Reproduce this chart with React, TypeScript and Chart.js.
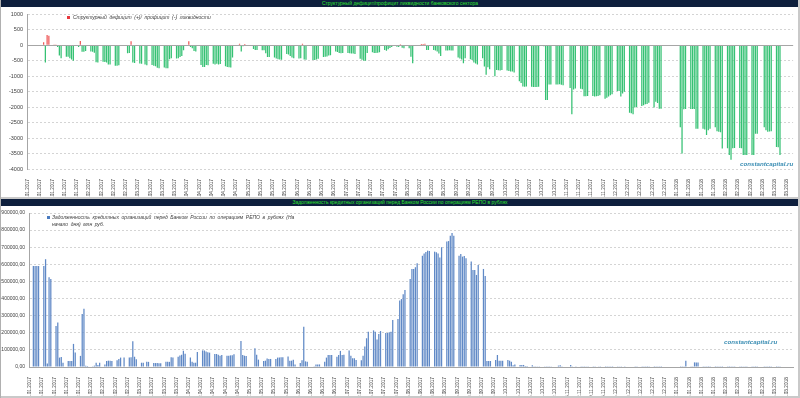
import React, { useEffect, useRef } from "react";
import { Chart, registerables } from "chart.js";
Chart.register(...registerables);

// ---------- categories ----------
const FIRST_YEAR = 2017;
const FIRST_MONTH = 0; // January
const FIRST_DATE = 1;
const DAY_COUNT = 438;
const LABEL_EVERY = 7;

// ---------- texts ----------
const TOP_TITLE = "Структурный дефицит/профицит ликвидности банковского сектора";
const TOP_SERIES_NAME = "Структурный дефицит (+)/ профицит (-) ликвидности";
const BOTTOM_TITLE = "Задолженность кредитных организаций перед Банком России по операциям РЕПО в рублях";
const BOTTOM_SERIES_NAME_1 = "Задолженность кредитных организаций перед Банком России по операциям РЕПО в рублях (На";
const BOTTOM_SERIES_NAME_2 = "начало дня) млн руб.";
const WATERMARK = "constantcapital.ru";

// ---------- tick labels ----------
const TOP_Y_TICKS = [1000, 500, 0, -500, -1000, -1500, -2000, -2500, -3000, -3500, -4000];
const BOTTOM_Y_TICKS = [900000, 800000, 700000, 600000, 500000, 400000, 300000, 200000, 100000, 0];

// ---------- series (weekly rows Mon..Fri, first row = week of 02.01.2017) ----------
const LIQUIDITY_WEEKS: (number | null)[][] = [
  [null, null, null, null, null],
  [-20, 100, -560, 330, 310],
  [10, 10, -60, -330, -420],
  [-370, -370, -420, -460, -500],
  [-60, 140, -210, -210, -190],
  [-200, -210, -240, -550, -560],
  [-530, -540, -560, -620, -620],
  [-660, -660, -650, null, null],
  [-260, -250, 130, -560, -570],
  [-590, -600, null, -620, -650],
  [-640, -660, -680, -730, -740],
  [-720, -740, -740, -450, -420],
  [-430, -420, -380, -350, -160],
  [130, -60, -100, -190, -200],
  [-640, -700, -700, -640, -650],
  [-600, -620, -600, -620, -610],
  [-680, -700, -710, -720, -400],
  [null, 50, -200, -30, 40],
  [null, null, -120, -150, -150],
  [-160, -160, -260, -380, -380],
  [-400, -430, -450, -460, -470],
  [-280, -300, -350, -400, -420],
  [-430, -420, 50, -460, -470],
  [null, -480, -480, -460, -440],
  [-380, -370, -360, -330, -320],
  [-200, -220, -250, -260, -250],
  [-250, -260, -270, -270, -280],
  [-440, -470, -500, -500, -250],
  [-230, -250, -250, -240, -230],
  [-150, -180, -130, -90, -60],
  [-50, -60, 30, -80, -100],
  [-100, -370, -580, -20, -10],
  [40, 40, 50, -150, -150],
  [-150, -170, -200, -270, -350],
  [-170, -170, -160, -170, -170],
  [-400, -430, -460, -580, -420],
  [-450, -480, -560, -590, -620],
  [-420, -690, -950, -710, -780],
  [-1000, -800, -810, -820, -800],
  [-820, -830, -850, -850, -880],
  [-1160, -1220, -1330, -1340, -1330],
  [-1340, -1350, -1350, -1350, -1340],
  [-30, -1770, -1770, -1270, -1270],
  [-1270, -1270, -1260, -1280, -1290],
  [null, -1380, -2230, -1430, -1400],
  [-1410, -1420, -1650, -1650, -1640],
  [-1640, -1660, -1650, -1640, -1620],
  [-1730, -1700, -1660, -1620, -1580],
  [-1480, -1480, -1660, -1560, -1500],
  [-2180, -2200, -2230, -2010, -2000],
  [-1960, -1940, -1910, -1900, -1860],
  [-2010, -1830, -1870, -2050, -2050],
  [null, null, null, null, null],
  [null, -2650, -3500, -2070, -2060],
  [-2060, -2060, -2060, -2700, -2700],
  [-2700, -2720, -2900, -2750, -2700],
  [-2650, -2780, -2800, -2810, -3340],
  [-3330, -3550, -3700, -3330, -3320],
  [-3320, -3330, -3550, -3550, -3550],
  [-3550, -3550, -2860, -2860, null],
  [-2650, -2750, -2800, -2790, -2780],
  [-3290, -3300, -3550, null, null],
];

const REPO_WEEKS: (number | null)[][] = [
  [null, 590000, 590000, 590000, 590000],
  [590000, 630000, 20000, 525000, 515000],
  [240000, 260000, 55000, 58000, 25000],
  [35000, 35000, 35000, 135000, 85000],
  [65000, 310000, 340000, 8000, 6000],
  [2000, 8000, 25000, 12000, 25000],
  [15000, 35000, 37000, 37000, 35000],
  [40000, 47000, 55000, null, 55000],
  [55000, 57000, 150000, 60000, 45000],
  [25000, 25000, null, 30000, 30000],
  [23000, 23000, 23000, 22000, 22000],
  [30000, 30000, 30000, 57000, 55000],
  [60000, 67000, 72000, 95000, 78000],
  [55000, 31000, 25000, 25000, 88000],
  [97000, 97000, 90000, 86000, 84000],
  [76000, 76000, 72000, 66000, 70000],
  [66000, 66000, 68000, 68000, 74000],
  [null, 152000, 70000, 66000, 65000],
  [null, null, 110000, 72000, 43000],
  [35000, 37000, 49000, 47000, 47000],
  [47000, 55000, 55000, 57000, 57000],
  [62000, 37000, 37000, 43000, 15000],
  [23000, 39000, 235000, 33000, 31000],
  [null, 4000, 15000, 15000, 15000],
  [31000, 55000, 70000, 70000, 70000],
  [60000, 70000, 94000, 70000, 72000],
  [97000, 66000, 51000, 51000, 41000],
  [39000, 66000, 120000, 168000, 206000],
  [214000, 206000, 160000, 193000, 210000],
  [199000, 199000, 203000, 206000, 275000],
  [280000, 388000, 397000, 425000, 450000],
  [515000, 573000, 573000, 583000, 606000],
  [650000, 664000, 672000, 680000, 678000],
  [674000, 670000, 664000, 640000, 700000],
  [733000, 736000, 767000, 783000, 767000],
  [650000, 660000, 645000, 648000, 635000],
  [616000, 567000, 567000, 538000, 596000],
  [573000, 532000, 35000, 35000, 35000],
  [41000, 70000, 37000, 37000, 37000],
  [41000, 37000, 31000, 10000, 14000],
  [12000, 12000, 12000, 6000, 6000],
  [10000, 4000, 4000, 4000, 4000],
  [4000, 4000, 2000, 2000, 2000],
  [3000, 8000, 10000, 4000, 3000],
  [null, 12000, 4000, 3000, 2000],
  [2000, 2000, 2000, 2000, 2000],
  [2000, 2000, 3000, 2000, 2000],
  [1000, 1000, 2000, 1000, 1000],
  [1000, 2000, 2000, 3000, 2000],
  [3000, 3000, 3000, 2000, 2000],
  [1000, 1000, 1000, 1000, 1000],
  [1000, 2000, 1000, 1000, 1000],
  [null, null, null, null, null],
  [null, 1000, 1000, 1000, 37000],
  [1000, 1000, 27000, 27000, 27000],
  [1000, 1000, 1000, 1000, 1000],
  [1000, 1000, 1000, 1000, 1000],
  [1000, 1000, 1000, 1000, 1000],
  [1000, 1000, 2000, 1000, 1000],
  [1000, 1000, 1000, 1000, null],
  [1000, 1000, 1000, 1000, 1000],
  [1000, 1000, 1000, null, null],
];

// ---------- helpers ----------
function pad(n: number) {
  return n < 10 ? "0" + n : String(n);
}
function buildLabels(): string[] {
  const out: string[] = [];
  for (let i = 0; i < DAY_COUNT; i++) {
    const d = new Date(FIRST_YEAR, FIRST_MONTH, FIRST_DATE + i);
    out.push(pad(d.getDate()) + "." + pad(d.getMonth() + 1) + "." + d.getFullYear());
  }
  return out;
}
function toDaily(weeks: (number | null)[][]): (number | null)[] {
  const out: (number | null)[] = new Array(DAY_COUNT).fill(null);
  weeks.forEach((w, k) =>
    w.forEach((v, j) => {
      const d = 1 + 7 * k + j;
      if (d < DAY_COUNT) out[d] = v;
    })
  );
  return out;
}

const FONT = "'Liberation Sans', Arial, sans-serif";
const GRID = "#d4d4d4";
const AXIS = "#a6a6a6";
const TICK_COLOR = "#404040";

const zeroLine = {
  id: "zeroLine",
  afterDatasetsDraw(chart: any) {
    const y = chart.scales.y.getPixelForValue(0);
    const { left, right } = chart.chartArea;
    const ctx = chart.ctx;
    ctx.save();
    ctx.strokeStyle = AXIS;
    ctx.lineWidth = 1;
    ctx.beginPath();
    ctx.moveTo(left, Math.round(y) + 0.5);
    ctx.lineTo(right, Math.round(y) + 0.5);
    ctx.stroke();
    ctx.restore();
  },
};

export default function App() {
  const topRef = useRef<HTMLCanvasElement>(null);
  const botRef = useRef<HTMLCanvasElement>(null);

  useEffect(() => {
    const labels = buildLabels();
    const liquidity = toDaily(LIQUIDITY_WEEKS);
    const repo = toDaily(REPO_WEEKS);

    const xTicks = (size: number) => ({
      autoSkip: false,
      minRotation: 90,
      maxRotation: 90,
      padding: 2,
      color: TICK_COLOR,
      font: { size, family: FONT },
      callback: (_v: any, i: number) => (i % LABEL_EVERY === 0 ? labels[i] : ""),
    });

    const top = new Chart(topRef.current!, {
      type: "bar",
      data: {
        labels,
        datasets: [
          {
            data: liquidity as any,
            backgroundColor: (ctx: any) => ((ctx.raw ?? 0) >= 0 ? "#ef5a5a" : "#35c173"),
            barPercentage: 0.72,
            categoryPercentage: 1,
          },
        ],
      },
      options: {
        animation: false,
        responsive: false,
        maintainAspectRatio: false,
        layout: { padding: { left: 0, right: 3, top: 5, bottom: 0 } },
        plugins: { legend: { display: false }, tooltip: { enabled: false } },
        scales: {
          x: {
            grid: { display: false },
            border: { display: false },
            ticks: xTicks(4.8) as any,
            afterFit: (s: any) => {
              s.height = 28;
            },
          },
          y: {
            min: TOP_Y_TICKS[TOP_Y_TICKS.length - 1],
            max: TOP_Y_TICKS[0],
            afterBuildTicks: (s: any) => {
              s.ticks = TOP_Y_TICKS.map((v) => ({ value: v }));
            },
            ticks: {
              color: TICK_COLOR,
              padding: 4,
              font: { size: 5.5, family: FONT },
              callback: (v: any) => String(v),
            },
            grid: { color: GRID, drawTicks: false },
            border: { display: true, color: AXIS, dash: [2, 2] },
            afterFit: (s: any) => {
              s.width = 27;
            },
          },
        },
      },
      plugins: [zeroLine],
    });

    const bottom = new Chart(botRef.current!, {
      type: "bar",
      data: {
        labels,
        datasets: [
          {
            data: repo as any,
            backgroundColor: "#6089c6",
            barPercentage: 0.72,
            categoryPercentage: 1,
          },
        ],
      },
      options: {
        animation: false,
        responsive: false,
        maintainAspectRatio: false,
        layout: { padding: { left: 0, right: 3, top: 7, bottom: 0 } },
        plugins: { legend: { display: false }, tooltip: { enabled: false } },
        scales: {
          x: {
            grid: { display: false },
            border: { display: true, color: AXIS },
            ticks: xTicks(4.8) as any,
            afterFit: (s: any) => {
              s.height = 29;
            },
          },
          y: {
            min: 0,
            max: BOTTOM_Y_TICKS[0],
            afterBuildTicks: (s: any) => {
              s.ticks = BOTTOM_Y_TICKS.map((v) => ({ value: v }));
            },
            ticks: {
              color: TICK_COLOR,
              padding: 4,
              font: { size: 5, family: FONT },
              callback: (v: any) => Number(v).toFixed(2).replace(".", ","),
            },
            grid: { color: GRID, drawTicks: false },
            border: { display: true, color: AXIS, dash: [2, 2] },
            afterFit: (s: any) => {
              s.width = 29;
            },
          },
        },
      },
    });

    return () => {
      top.destroy();
      bottom.destroy();
    };
  }, []);

  const headerStyle: React.CSSProperties = {
    position: "absolute",
    left: 0,
    width: 800,
    height: 7,
    background: "#0e1f3d",
    color: "#2fe02f",
    fontFamily: FONT,
    fontSize: 5,
    lineHeight: "7px",
    textAlign: "center",
    whiteSpace: "nowrap",
  };
  const legendText: React.CSSProperties = {
    position: "absolute",
    fontFamily: FONT,
    fontStyle: "italic",
    fontSize: 5,
    lineHeight: "7px",
    color: "#404040",
    whiteSpace: "nowrap",
    wordSpacing: 1.2,
  };
  const wm: React.CSSProperties = {
    position: "absolute",
    fontFamily: FONT,
    fontStyle: "italic",
    fontWeight: "bold",
    fontSize: 6.2,
    color: "#3a8db3",
    whiteSpace: "nowrap",
    lineHeight: "8px",
  };

  return (
    <div
      style={{
        position: "absolute",
        left: 0,
        top: 0,
        width: 800,
        height: 398,
        background: "#ffffff",
        overflow: "hidden",
      }}
    >
      <div style={{ ...headerStyle, top: 0 }}>{TOP_TITLE}</div>
      <canvas
        ref={topRef}
        width={800}
        height={190}
        style={{ position: "absolute", left: 0, top: 7, width: 800, height: 190 }}
      />
      <div style={{ position: "absolute", left: 67, top: 16, width: 3, height: 3, background: "#e8383d" }} />
      <div style={{ ...legendText, left: 73, top: 14 }}>{TOP_SERIES_NAME}</div>
      <div style={{ ...wm, left: 740, top: 160 }}>{WATERMARK}</div>

      <div style={{ position: "absolute", left: 0, top: 197, width: 800, height: 2, background: "#c9c9c9" }} />
      <div style={{ ...headerStyle, top: 199 }}>{BOTTOM_TITLE}</div>
      <canvas
        ref={botRef}
        width={800}
        height={190}
        style={{ position: "absolute", left: 0, top: 206, width: 800, height: 190 }}
      />
      <div style={{ position: "absolute", left: 47, top: 216, width: 3, height: 3, background: "#4a7bc0" }} />
      <div style={{ ...legendText, left: 52, top: 214 }}>{BOTTOM_SERIES_NAME_1}</div>
      <div style={{ ...legendText, left: 52, top: 221 }}>{BOTTOM_SERIES_NAME_2}</div>
      <div style={{ ...wm, left: 724, top: 338 }}>{WATERMARK}</div>

      <div style={{ position: "absolute", left: 0, top: 396, width: 800, height: 2, background: "#c9c9c9" }} />
      <div style={{ position: "absolute", left: 0, top: 0, width: 1, height: 398, background: "#b0b0b0" }} />
      <div style={{ position: "absolute", left: 798, top: 0, width: 2, height: 398, background: "#c9c9c9" }} />
    </div>
  );
}
